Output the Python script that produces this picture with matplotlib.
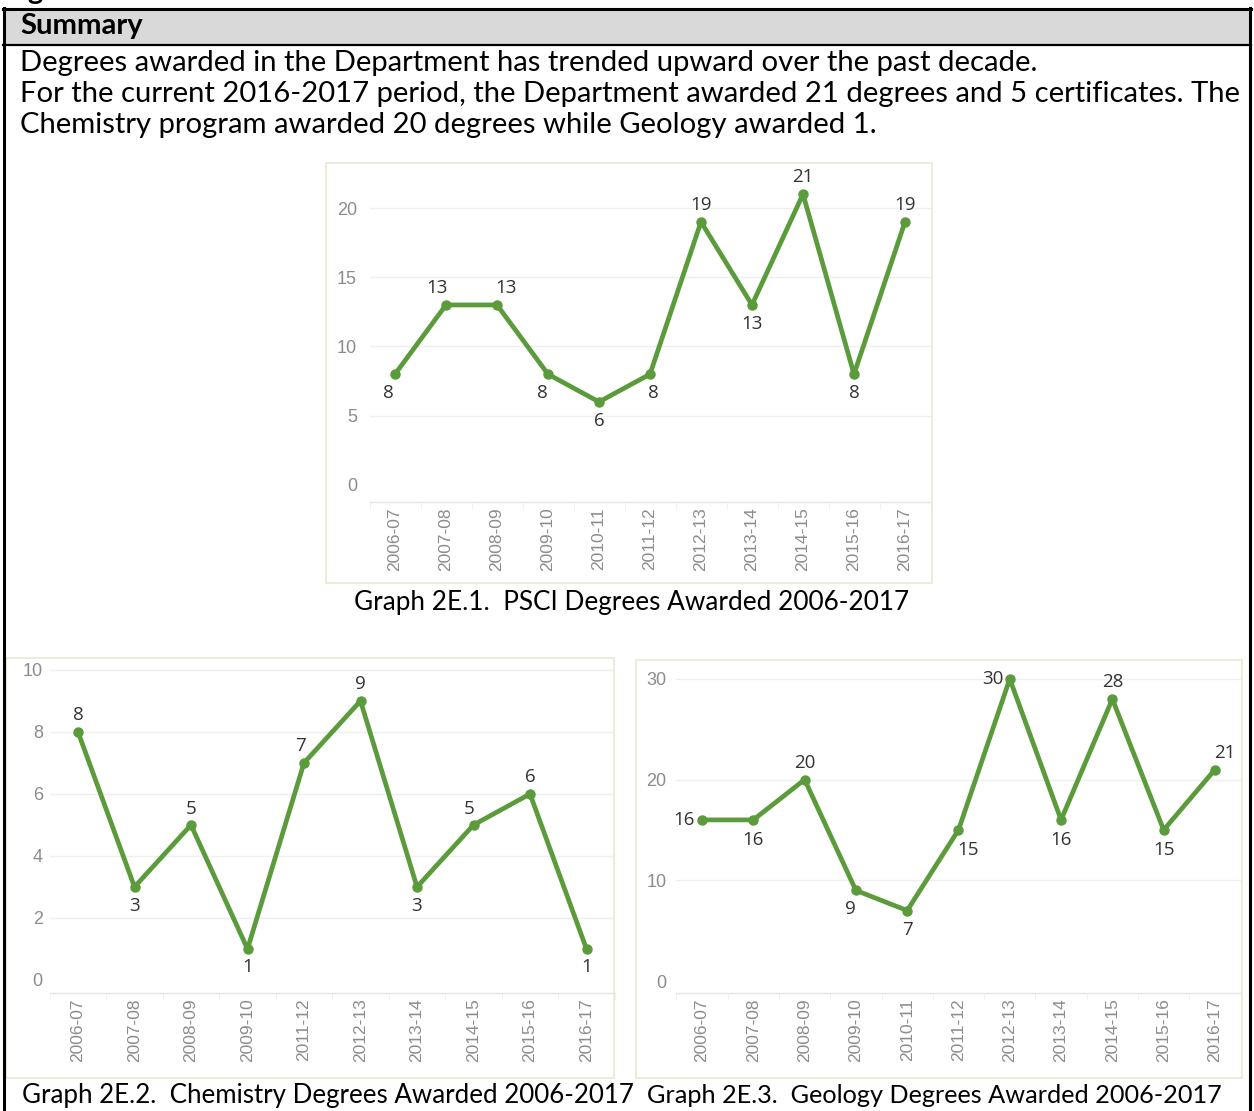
import numpy as np
import matplotlib
matplotlib.use('Agg')
from matplotlib import pyplot as plt
from matplotlib import rcParams
from matplotlib.lines import Line2D
from matplotlib.patches import Rectangle

rcParams['font.family'] = ['Lato', 'DejaVu Sans']

#%% data
years_all = ['2006-07', '2007-08', '2008-09', '2009-10', '2010-11', '2011-12',
             '2012-13', '2013-14', '2014-15', '2015-16', '2016-17']
psci = [8, 13, 13, 8, 6, 8, 19, 13, 21, 8, 19]

years_chem = ['2006-07', '2007-08', '2008-09', '2009-10', '2011-12',
              '2012-13', '2013-14', '2014-15', '2015-16', '2016-17']
chem = [8, 3, 5, 1, 7, 9, 3, 5, 6, 1]

geol = [16, 16, 20, 9, 7, 15, 30, 16, 28, 15, 21]

summary_lines = ['Degrees awarded in the Department has trended upward over the past decade.',
                 'For the current 2016-2017 period, the Department awarded 21 degrees and 5 certificates. The',
                 'Chemistry program awarded 20 degrees while Geology awarded 1.']
captions = ['Graph 2E.1.  PSCI Degrees Awarded 2006-2017',
            'Graph 2E.2.  Chemistry Degrees Awarded 2006-2017',
            'Graph 2E.3.  Geology Degrees Awarded 2006-2017']

# label offsets in pixels (dx, dy), dy positive = up
off1 = [(-7, -19), (-9, 17), (9, 17), (-6, -19), (0, -19), (3, -19),
        (0, 17), (0, -19), (0, 17), (0, -19), (0, 17)]
off2 = [(0, 17), (0, -19), (0, 16), (0, -18), (-4, 17), (0, 17),
        (0, -19), (-4, 16), (0, 17), (0, -18)]
off3 = [(-18, 0), (0, -20), (0, 17), (-6, -19), (0, -19), (10, -20),
        (-17, 0), (0, -20), (0, 17), (0, -20), (10, 17)]

#%% figure
W, H = 1254, 1111
fig = plt.figure(figsize=(W/100, H/100), dpi=100)

def fx(x):
    return x/W

def fy(y):
    return 1 - y/H

def px_axes(x0, y0, x1, y1):
    return fig.add_axes([fx(x0), fy(y1), (x1-x0)/W, (y1-y0)/H])

# header box
fig.patches.append(Rectangle((fx(4), fy(45)), (1250-4)/W, 35/H, transform=fig.transFigure,
                             facecolor='#d9d9d9', edgecolor='none', zorder=0))
for xs, ys, lw in [([4, 4], [8, H+5], 2.2), ([1250, 1250], [8, H+5], 2.2),
                   ([3, 1251], [9, 9], 2.2), ([3, 1251], [45, 45], 1.6)]:
    fig.lines.append(Line2D([fx(v) for v in xs], [fy(v) for v in ys], transform=fig.transFigure,
                            color='k', linewidth=lw))

# fit font sizes to the widths seen in the page
renderer = fig.canvas.get_renderer()

def fit_size(s, width):
    t = fig.text(0, 0, s, fontsize=10)
    w = t.get_window_extent(renderer).width
    t.remove()
    return 10*width/w

fs = fit_size(summary_lines[1], 1220)

fig.text(fx(-9), fy(-1), 'Degrees', fontsize=fs, fontweight='bold', va='baseline')
fig.text(fx(20), fy(34), 'Summary', fontsize=fs, fontweight='bold', va='baseline')
for i, line in enumerate(summary_lines):
    fig.text(fx(20), fy(71 + 31*i), line, fontsize=fs, va='baseline')

fig.text(fx(354), fy(610), captions[0], fontsize=fit_size(captions[0], 552), va='baseline')
fig.text(fx(22), fy(1103), captions[1], fontsize=fit_size(captions[1], 610), va='baseline')
fig.text(fx(647), fy(1103), captions[2], fontsize=fit_size(captions[2], 575), va='baseline')

# light frames of chart images
for x0, y0, x1, y1 in [(326, 163, 932, 583), (6, 658, 614, 1078), (636, 660, 1242, 1078)]:
    fig.patches.append(Rectangle((fx(x0), fy(y1)), (x1-x0)/W, (y1-y0)/H, transform=fig.transFigure,
                                 facecolor='none', edgecolor='#ebe7d3', linewidth=1.2, zorder=0))

green = '#5b9b3b'
gray = '#8c8c8c'

def draw(ax, labels, vals, offs, ylim, yticks, ypad):
    x = np.arange(len(vals))
    ax.plot(x, vals, color=green, linewidth=3.4, marker='o', markersize=6.5,
            solid_joinstyle='round', zorder=3)
    for xi, v, (dx, dy) in zip(x, vals, offs):
        ax.annotate(str(v), (xi, v), xytext=(dx, dy), textcoords='offset pixels',
                    ha='center', va='center', fontsize=13.5, color='#333333',
                    family=['Open Sans', 'DejaVu Sans'], zorder=4)
    ax.set_xlim(-0.5, len(vals)-0.5)
    ax.set_ylim(ylim)
    ax.set_yticks(yticks)
    ax.set_xticks(x)
    ax.set_xticklabels(labels, rotation=90, family=['Liberation Sans', 'DejaVu Sans'])
    ax.set_xticks(np.arange(len(vals)+1)-0.5, minor=True)
    for lab in ax.get_yticklabels():
        lab.set_family(['Liberation Sans', 'DejaVu Sans'])
    ax.tick_params(axis='x', which='major', length=0, pad=4, labelsize=12.5, colors=gray)
    ax.tick_params(axis='x', which='minor', length=5, width=0.6, color='#eeeeee')
    ax.tick_params(axis='y', length=0, pad=ypad, labelsize=13, colors=gray)
    for yt in yticks[1:]:
        ax.axhline(yt, color='#efefef', linewidth=1.0, zorder=1)
    for s in ['top', 'right', 'left']:
        ax.spines[s].set_visible(False)
    ax.spines['bottom'].set_color('#e4e4e4')
    ax.spines['bottom'].set_linewidth(1.0)
    ax.patch.set_alpha(0)

ax1 = px_axes(369.5, 172, 930.5, 502)
draw(ax1, years_all, psci, off1, (-1.23, 22.6), [0, 5, 10, 15, 20], 9)

ax2 = px_axes(49.75, 660, 614.75, 993)
draw(ax2, years_chem, chem, off2, (-0.42, 10.32), [0, 2, 4, 6, 8, 10], 5)

ax3 = px_axes(676.35, 662, 1240.6, 993)
draw(ax3, years_all, geol, off3, (-1.19, 31.68), [0, 10, 20, 30], 7)

fig.savefig('out.png', dpi=100)
